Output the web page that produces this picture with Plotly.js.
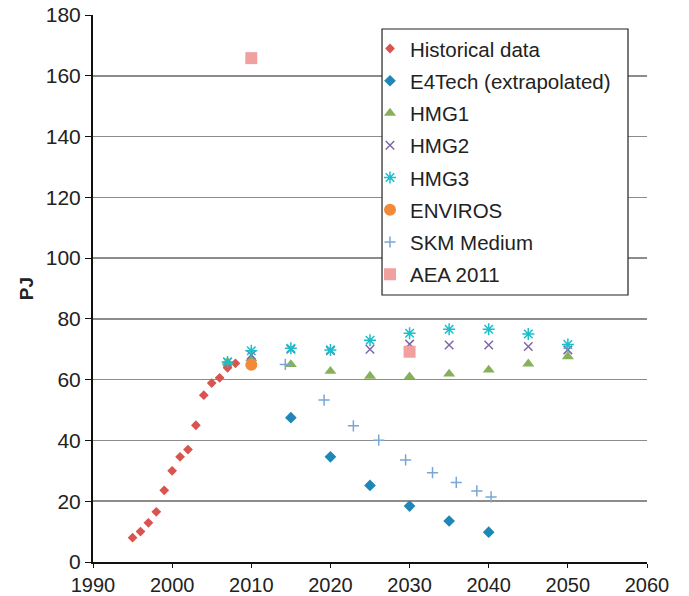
<!DOCTYPE html>
<html>
<head>
<meta charset="utf-8">
<script src="https://cdn.plot.ly/plotly-3.0.1.min.js"></script>
<style>html,body{margin:0;padding:0;background:#fff;}#chart{width:689px;height:596px;}</style>
</head>
<body>
<div id="chart"></div>
<script>
const histYears = [1995,1996,1997,1998,1999,2000,2001,2002,2003,2004,2005,2006,2007,2008];
const histValues = [8.0,10.0,12.9,16.5,23.6,30.0,34.6,37.0,45.0,54.9,58.9,60.6,63.9,65.4];

const e4Years = [2015,2020,2025,2030,2035,2040];
const e4Values = [47.5,34.6,25.2,18.4,13.5,9.8];

const hmgYears = [2007,2010,2015,2020,2025,2030,2035,2040,2045,2050];
const hmg1Values = [65.8,67.0,65.0,62.8,61.2,61.0,61.9,63.2,65.2,67.6];
const hmg2Values = [65.8,68.1,70.0,69.5,70.0,71.7,71.4,71.4,70.9,69.8];
const hmg3Values = [65.8,69.5,70.3,69.8,73.0,75.3,76.6,76.6,75.0,71.6];

const envYears = [2010];
const envValues = [64.9];

const skmYears = [2014.3,2019.2,2022.9,2026.1,2029.5,2032.9,2035.9,2038.5,2040.3];
const skmValues = [65.0,53.3,44.8,40.1,33.6,29.4,26.2,23.4,21.4];

const aeaYears = [2010,2030];
const aeaValues = [165.8,69.2];

const xTicks = [1990,2000,2010,2020,2030,2040,2050,2060];
const yTicks = [0,20,40,60,80,100,120,140,160,180];

function tr(name, x, y, symbol, color, size, open, grp) {
  const m = {symbol: symbol, size: size, color: color};
  if (open) m.line = {color: color, width: 1.5};
  else m.line = {width: 0};
  return {type: 'scatter', mode: 'markers', name: name, x: x, y: y, marker: m, legendgroup: grp, cliponaxis: false};
}

const data = [
  tr('Historical data', histYears, histValues, 'diamond', '#d9534f', 7.5, false, 'a'),
  tr('E4Tech (extrapolated)', e4Years, e4Values, 'diamond', '#1f87b7', 9, false, 'b'),
  tr('HMG1', hmgYears, hmg1Values, 'triangle-up', '#86b05a', 10.5, false, 'c'),
  tr('HMG2', hmgYears, hmg2Values, 'x-thin-open', '#8066a8', 8.5, true, 'd'),
  tr('HMG3', hmgYears, hmg3Values, 'asterisk-open', '#19bfcb', 10, true, 'e'),
  tr('ENVIROS', envYears, envValues, 'circle', '#f38a3a', 12, false, 'f'),
  tr('SKM Medium', skmYears, skmValues, 'cross-thin-open', '#7aa6d6', 8, true, 'g'),
  tr('AEA 2011', aeaYears, aeaValues, 'square', '#f0a09e', 12, false, 'h')
];

const fam = 'Liberation Sans, Arial, sans-serif';
const tickFont = {family: fam, size: 21, color: '#222'};
const xTickFont = {family: fam, size: 20, color: '#222'};

const layout = {
  width: 689, height: 596,
  margin: {l: 93, r: 42, t: 15, b: 34, pad: 0},
  paper_bgcolor: '#fff', plot_bgcolor: '#fff',
  font: tickFont,
  showlegend: true,
  legend: {
    x: 0.5, y: 0.975, xanchor: 'left', yanchor: 'top',
    bgcolor: 'rgba(0,0,0,0)', borderwidth: 0,
    font: {family: fam, size: 20.5, color: '#222'},
    traceorder: 'grouped', tracegroupgap: 2.6, itemwidth: 30
  },
  shapes: [{
    type: 'rect', xref: 'paper', yref: 'paper',
    x0: 0.5217, x1: 0.9657, y0: 0.4881, y1: 0.9744,
    line: {color: '#222', width: 1.2}, fillcolor: '#fff', layer: 'above'
  }],
  xaxis: {
    range: [1990, 2060], tickvals: xTicks, ticktext: xTicks.map(String),
    showgrid: false, zeroline: false, showline: true, linecolor: '#111', linewidth: 2,
    ticks: 'outside', ticklen: 4, tickcolor: '#111', tickwidth: 1, tickfont: xTickFont
  },
  yaxis: {
    range: [0, 180], tickvals: yTicks, ticktext: yTicks.map(String),
    showgrid: true, gridcolor: '#8c8c8c', gridwidth: 1.5,
    zeroline: false, showline: true, linecolor: '#111', linewidth: 2,
    ticks: 'outside', ticklen: 6, tickcolor: '#111', tickwidth: 1, tickfont: tickFont,
    title: {text: '<b>PJ</b>', font: {family: fam, size: 19, color: '#222'}, standoff: 7}
  }
};

Plotly.newPlot('chart', data, layout, {displayModeBar: false, staticPlot: true});
</script>
</body>
</html>
